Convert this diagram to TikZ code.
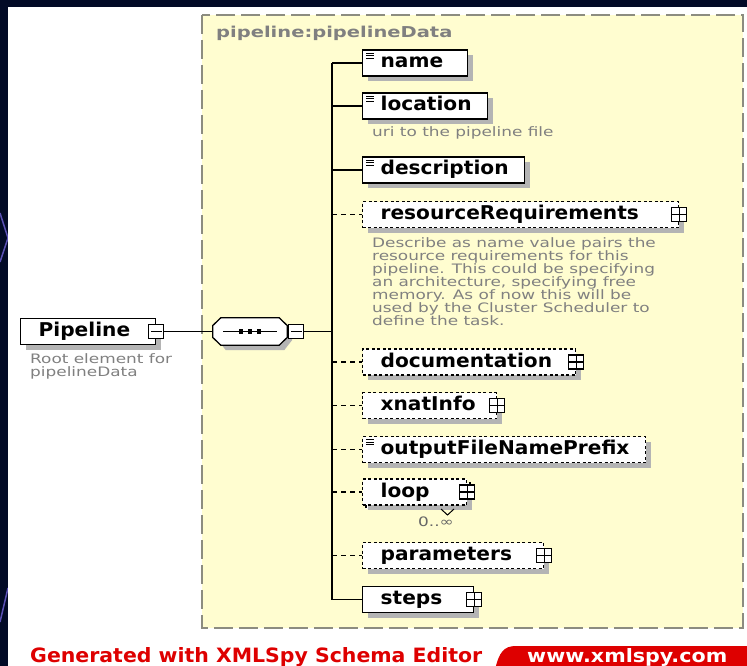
\documentclass[tikz,border=0pt]{standalone}
\usepackage{fontspec}
\usepackage{graphicx}
\usetikzlibrary{calc,shadows}

\newfontfamily\elfont{DejaVu Sans}[FakeStretch=1.06]
\newfontfamily\descfont{DejaVu Sans}[FakeStretch=1.3]
\newfontfamily\hdrfont{DejaVu Sans}[FakeStretch=1.3]
\newfontfamily\footfont{DejaVu Sans}

\definecolor{slidenavy}{RGB}{2,10,38}
\definecolor{slideline}{RGB}{90,80,180}
\definecolor{typefill}{RGB}{255,253,208}
\definecolor{typeborder}{RGB}{140,140,128}
\definecolor{shadowgray}{RGB}{180,180,180}
\definecolor{descgray}{RGB}{128,128,128}
\definecolor{footred}{RGB}{222,0,0}

\begin{document}
\begin{tikzpicture}[x=1pt,y=-1pt,
  elem/.style={draw=black, line width=1.3pt, fill=white, anchor=west,
    minimum height=26pt, inner xsep=18pt, inner ysep=0pt,
    text height=14pt, text depth=4pt, align=left,
    font=\elfont\bfseries\fontsize{19}{19}\selectfont,
    general shadow={fill=shadowgray, shadow xshift=5pt, shadow yshift=-5pt}},
  optelem/.style={elem, dash pattern=on 3pt off 2.5pt},
  conn/.style={draw=black, line width=1.2pt},
  optconn/.style={conn, dash pattern=on 5pt off 4pt},
  btn/.style={draw=black, fill=white, line width=1.1pt, minimum width=15pt,
    minimum height=14pt, inner sep=0pt},
  plusbtn/.style={btn, path picture={
    \draw[line width=1.1pt] (path picture bounding box.west) -- (path picture bounding box.east)
      (path picture bounding box.north) -- (path picture bounding box.south);}},
  minusbtn/.style={btn, path picture={
    \draw[line width=1.1pt] ([xshift=2pt]path picture bounding box.west) -- ([xshift=-2pt]path picture bounding box.east);}},
  desc/.style={inner sep=0pt, align=left, text=descgray,
    font=\descfont\fontsize{13}{13.1}\selectfont},
]
\useasboundingbox (0,0) rectangle (747,666);
\clip (0,0) rectangle (747,666);

% slide background and the white page
\fill[slidenavy] (0,0) rectangle (747,666);
\draw[slideline, line width=1.5pt] (0,213) -- (8,238) -- (0,262);
\draw[slideline, line width=1.5pt] (8,588) -- (0,622);
\fill[white] (8,7) rectangle (747,666);

% complex type frame
\draw[typeborder, fill=typefill, line width=1.8pt, dash pattern=on 19pt off 6pt]
  (202,15) rectangle (743,628);
\node[anchor=west, inner sep=0pt, text=descgray,
  font=\hdrfont\bfseries\fontsize{15}{15}\selectfont] (hdr) at (216,33) {pipeline:pipelineData};

% root element
\node[elem, text width=99pt] (pipe) at (20,331.5) {Pipeline};
\node[minusbtn] (pipe-b) at (pipe.east) {};
\node[desc, anchor=north west] (pipe-doc) at (30,353) {Root element for\\pipelineData};

% sequence compositor
\node[minimum width=74pt, minimum height=27pt, inner sep=0pt] (seq) at (250,331.5) {};
\fill[shadowgray]
  ($(seq.north west)+(13,5)$) -- ($(seq.north east)+(-3,5)$) -- ($(seq.east)+(5,-3.5)$)
  -- ($(seq.east)+(5,8.5)$) -- ($(seq.south east)+(-3,5)$) -- ($(seq.south west)+(13,5)$)
  -- ($(seq.west)+(5,8.5)$) -- ($(seq.west)+(5,-3.5)$) -- cycle;
\draw[line width=1.3pt, fill=white]
  ($(seq.north west)+(8,0)$) -- ($(seq.north east)+(-8,0)$) -- ($(seq.east)+(0,-6)$)
  -- ($(seq.east)+(0,6)$) -- ($(seq.south east)+(-8,0)$) -- ($(seq.south west)+(8,0)$)
  -- ($(seq.west)+(0,6)$) -- ($(seq.west)+(0,-6)$) -- cycle;
\draw[line width=1.2pt] ($(seq.center)+(-27,0)$) -- ($(seq.center)+(27,0)$);
\foreach \dx in {-9,0,9}
  \fill ($(seq.center)+(\dx-2.2,-2.2)$) rectangle ($(seq.center)+(\dx+2.2,2.2)$);
\node[minusbtn, anchor=west] (seq-b) at ([xshift=1pt]seq.east) {};
\draw[conn] (pipe-b.east) -- (seq.west);

% child elements
\node[elem, text width=69pt] (name) at (362,63) {name};
\node[elem, text width=89pt] (location) at (362,106) {location};
\node[desc, anchor=west] (location-doc) at (372,133) {uri to the pipeline file};
\node[elem, text width=126pt] (description) at (362,170) {description};
\node[optelem, text width=280pt] (resreq) at (362,214.5) {resourceRequirements};
\node[plusbtn] (resreq-b) at (resreq.east) {};
\node[desc, anchor=north west] (resreq-doc) at (372,237) {Describe as name value pairs the\\
resource requirements for this\\
pipeline. This could be specifying\\
an architecture, specifying free\\
memory. As of now this will be\\
used by the Cluster Scheduler to\\
define the task.};
\node[optelem, text width=177pt] (docu) at (362,362) {documentation};
\node[plusbtn] (docu-b) at (docu.east) {};
\node[optelem, text width=98pt] (xnat) at (362,405.5) {xnatInfo};
\node[plusbtn] (xnat-b) at (xnat.east) {};
\node[optelem, text width=247pt] (prefix) at (362,449.5) {outputFileNamePrefix};
% repeated element: a second frame behind the first
\draw[fill=white, line width=1.1pt, dash pattern=on 3pt off 2.5pt]
  (366,483) rectangle (470,509);
\node[optelem, text width=68pt] (loop) at (362,492) {loop};
\node[plusbtn] (loop-b) at (loop.east) {};
\draw[line width=1pt] (441,509) -- (447.5,515) -- (454,509);
\node[desc, text=black!60] (loop-card) at (436,522) {0..∞};
\node[optelem, text width=145pt] (params) at (362,555.5) {parameters};
\node[plusbtn] (params-b) at (params.east) {};
\node[elem, text width=75pt] (steps) at (362,599.5) {steps};
\node[plusbtn] (steps-b) at (steps.east) {};

% simple content marks
\foreach \n in {name,location,description,prefix}
  \foreach \dy in {4,6.5,9}
    \draw[line width=0.8pt] ($(\n.north west)+(4,\dy)$) -- +(8,0);

% connectors from the sequence trunk
\coordinate (trunk) at (332,0);
\draw[conn] (name.west -| trunk) -- (steps.west -| trunk);
\draw[conn] (seq-b.east) -- (seq-b.east -| trunk);
\foreach \n in {name,location,description,steps}
  \draw[conn] (\n.west -| trunk) -- (\n.west);
\foreach \n in {resreq,docu,xnat,prefix,loop,params}
  \draw[optconn] (\n.west -| trunk) -- (\n.west);

% footer
\node[anchor=base west, inner sep=0pt, text=footred] (gen) at (30,662)
  {\resizebox{452pt}{15pt}{\footfont\bfseries Generated with XMLSpy Schema Editor}};
\fill[footred] (495,670) .. controls (499,652) and (504,646) .. (516,646) -- (750,646) -- (750,670) -- cycle;
\node[anchor=base west, inner sep=0pt, text=white] (url) at (527,662)
  {\resizebox{200pt}{14pt}{\footfont\bfseries www.xmlspy.com}};
\end{tikzpicture}
\end{document}
